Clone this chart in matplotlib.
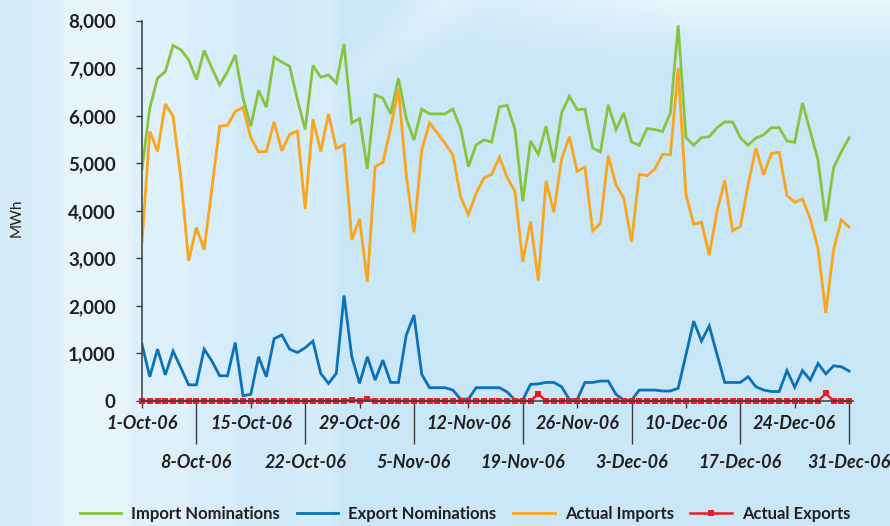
import numpy as np
import pandas as pd
import matplotlib
matplotlib.use("Agg")
import matplotlib.pyplot as plt
import matplotlib.dates as mdates
from matplotlib.ticker import FuncFormatter, FixedLocator

# ---- daily interconnector flows, 1 Oct - 31 Dec 2006 (MWh) ----
dates = pd.date_range("2006-10-01", "2006-12-31", freq="D")

import_nominations = [
    4880, 6160, 6790, 6930, 7480, 7390, 7180, 6760, 7370, 7000, 6650, 6930,
    7280, 6370, 5780, 6530, 6180, 7230, 7130, 7040, 6340, 5710, 7060, 6810,
    6860, 6690, 7510, 5850, 5940, 4880, 6440, 6370, 6040, 6790, 5950, 5490,
    6140, 6040, 6040, 6040, 6140, 5740, 4930, 5390, 5490, 5450, 6190,
    6220, 5710, 4200, 5470, 5190, 5780, 5020, 6060, 6410, 6130, 6140, 5320,
    5240, 6230, 5710, 6060, 5450, 5380, 5730, 5710, 5670, 6060,
    7900, 5540, 5380, 5540, 5560, 5750, 5870, 5870, 5540, 5380, 5530, 5600,
    5750, 5750, 5470, 5440, 6270, 5670, 5070, 3780, 4910, 5240, 5540,
]

export_nominations = [
    1190, 510, 1090, 550, 1050, 700, 340, 340, 1090, 840, 530, 530,
    1230, 110, 140, 930, 510, 1310, 1390, 1090, 1020, 1120, 1260,
    580, 370, 580, 2220, 930, 370, 930, 440, 860, 390, 390, 1380,
    1810, 560, 280, 280, 280, 230, 40, 40, 280, 280, 280, 280,
    190, 20, 20, 350, 360, 390, 390, 300, 30, 30, 390, 390,
    420, 420, 140, 20, 20, 230, 230, 230, 210, 210,
    270, 970, 1680, 1260, 1580, 980, 390, 390, 390, 510, 300, 230,
    200, 200, 640, 290, 640, 440, 790, 570, 740, 720, 630,
]

actual_imports = [
    3350, 5670, 5250, 6250, 5990, 4690, 2950, 3650, 3180, 4480, 5780, 5800,
    6090, 6180, 5540, 5240, 5250, 5870, 5260, 5610, 5680, 4040, 5930, 5250,
    6040, 5310, 5390, 3390, 3830, 2510, 4930, 5020, 5740, 6570, 4760, 3550,
    5280, 5850, 5640, 5420, 5180, 4300, 3920, 4370, 4690, 4770, 5130,
    4700, 4410, 2930, 3780, 2530, 4630, 3970, 5090, 5560, 4830, 4920, 3580,
    3740, 5160, 4550, 4270, 3350, 4770, 4740, 4880, 5190, 5180,
    7000, 4340, 3720, 3760, 3070, 3990, 4640, 3580, 3670, 4550, 5320, 4760,
    5210, 5230, 4320, 4180, 4250, 3830, 3210, 1850, 3180, 3810, 3660,
]

actual_exports = [0] * 92
actual_exports[27] = 30
actual_exports[29] = 40
actual_exports[51] = 150
actual_exports[88] = 160

series_labels = ["Import Nominations", "Export Nominations",
                 "Actual Imports", "Actual Exports"]
y_ticks = list(range(0, 8001, 1000))

# ---- styling ----
GREEN = "#86c440"
BLUE = "#0b72b9"
ORANGE = "#f9a51d"
RED = "#ec1c24"
INK = "#231f20"
FONT = ["Lato", "DejaVu Sans"]
plt.rcParams["font.family"] = FONT

W, H = 890, 526
fig = plt.figure(figsize=(W / 100, H / 100), dpi=100)

# soft sky-blue backdrop with lighter bands and a pale haze near the top
xx = np.arange(W, dtype=float)
yy = np.arange(H, dtype=float)
X, Y = np.meshgrid(xx, yy)
band_x = [0, 32, 40, 58, 66, 125, 135, 185, 195, 228, 238, 290, 298, 330, 340, W]
band_a = [0.26, 0.26, 0.34, 0.34, 0.58, 0.58, 0.40, 0.40, 0.30, 0.30,
          0.16, 0.16, 0.24, 0.24, 0.04, 0.04]
a_band = np.interp(X, band_x, band_a)
a_top = 0.65 * np.clip(1 - Y / 75.0, 0, 1) ** 1.6 * np.clip((X - 380) / 300.0, 0, 1)
# faint diagonal light streak
p0 = np.array([470.0, -20.0])
d = np.array([-220.0, 190.0])
d /= np.hypot(*d)
n = np.array([-d[1], d[0]])
dist = (X - p0[0]) * n[0] + (Y - p0[1]) * n[1]
along = (X - p0[0]) * d[0] + (Y - p0[1]) * d[1]
a_streak = 0.35 * np.exp(-(dist / 22.0) ** 2) * np.clip(1 - along / 260.0, 0, 1)
alpha = 1 - (1 - a_band) * (1 - a_top) * (1 - a_streak)
base = np.array([200, 230, 248]) / 255.0
img = base[None, None, :] * (1 - alpha[..., None]) + alpha[..., None]

bg = fig.add_axes([0, 0, 1, 1], zorder=0)
bg.imshow(img, aspect="auto", extent=(0, 1, 0, 1), interpolation="bilinear")
bg.set_axis_off()

# main plotting area
left, right = 142 / W, 853 / W
bottom, top = 1 - 401 / H, 1 - 20.7 / H
ax = fig.add_axes([left, bottom, right - left, top - bottom], zorder=1)
ax.set_facecolor("none")

lw = 2.0
ax.plot(dates, import_nominations, color=GREEN, lw=lw, label=series_labels[0],
        solid_joinstyle="miter")
ax.plot(dates, export_nominations, color=BLUE, lw=lw, label=series_labels[1],
        solid_joinstyle="miter")
ax.plot(dates, actual_imports, color=ORANGE, lw=lw, label=series_labels[2],
        solid_joinstyle="miter")
ax.plot(dates, actual_exports, color=RED, lw=1.8, marker="s", markersize=4.4,
        markeredgewidth=0, label=series_labels[3], clip_on=False)

ax.set_ylim(0, 8000)
ax.set_xlim(dates[0], dates[-1] + pd.Timedelta(hours=12))

for side in ("top", "right"):
    ax.spines[side].set_visible(False)
for side in ("left", "bottom"):
    ax.spines[side].set_color("#3c3c3c")
    ax.spines[side].set_linewidth(1.1)

# y axis
ax.set_yticks(y_ticks)
ax.yaxis.set_major_formatter(FuncFormatter(lambda v, _: f"{int(v):,}"))
ax.tick_params(axis="y", direction="out", length=4, width=1, color="#3c3c3c",
               pad=15, labelsize=13.5, labelcolor=INK)
for t in ax.get_yticklabels():
    t.set_fontweight("bold")

# x axis: alternating weekly labels on two rows
upper_dates = dates[0::14]
lower_dates = dates[7::14]
fmt = lambda dt: f"{dt.day}-{dt.strftime('%b')}-{dt.strftime('%y')}"
ax.xaxis.set_major_locator(FixedLocator(mdates.date2num(upper_dates)))
ax.xaxis.set_minor_locator(FixedLocator(mdates.date2num(lower_dates)))
ax.set_xticklabels([fmt(d_) for d_ in upper_dates])
ax.set_xticklabels([fmt(d_) for d_ in lower_dates], minor=True)
ax.tick_params(axis="x", which="major", direction="out", length=5, width=1,
               color="#3c3c3c", pad=5, labelsize=13, labelcolor=INK)
ax.tick_params(axis="x", which="minor", direction="out", length=31, width=1,
               color="#3c3c3c", pad=7, labelsize=13, labelcolor=INK)
for t in ax.get_xticklabels(which="both"):
    t.set_fontweight("bold")
    t.set_fontstyle("italic")

fig.text(17 / W, 1 - 218 / H, "MWh", rotation=90, ha="center", va="center",
         fontsize=11, color=INK)

leg = fig.legend(loc="center", bbox_to_anchor=(465 / W, 1 - 514 / H), ncol=4,
                 frameon=False, handlelength=2.5, handletextpad=0.6,
                 columnspacing=1.0, prop={"weight": "bold", "size": 12.0})
for t in leg.get_texts():
    t.set_color(INK)

fig.savefig("out.png", dpi=100)
